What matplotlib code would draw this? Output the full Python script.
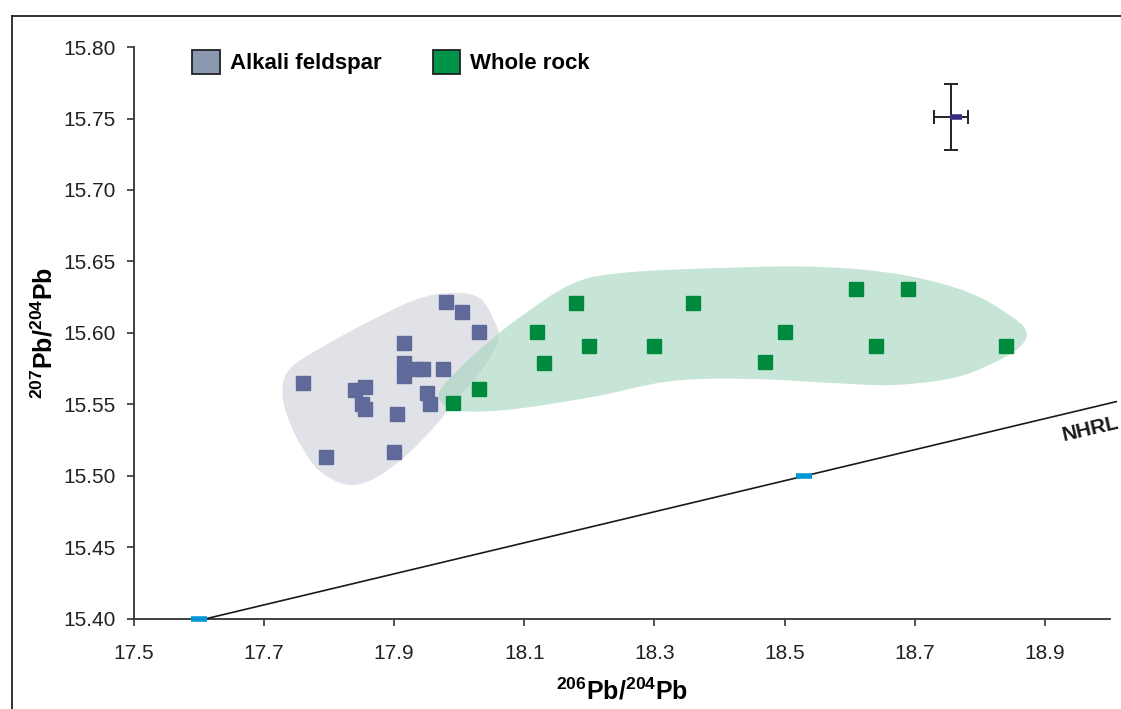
import numpy as np
import matplotlib
matplotlib.use("Agg")
import matplotlib.pyplot as plt
from matplotlib.patches import Patch, Polygon
from matplotlib.lines import Line2D

plt.rcParams['font.family'] = ['Liberation Sans', 'DejaVu Sans']
plt.rcParams['mathtext.fontset'] = 'custom'
plt.rcParams['mathtext.bf'] = 'Liberation Sans:bold'
plt.rcParams['mathtext.rm'] = 'Liberation Sans'

# alkali feldspar (206Pb/204Pb, 207Pb/204Pb)
kfs_x = [17.76, 17.795, 17.84, 17.855, 17.85, 17.855, 17.905, 17.90, 17.915, 17.915,
         17.915, 17.93, 17.945, 17.975, 17.95, 17.955, 17.98, 18.005, 18.03]
kfs_y = [15.565, 15.513, 15.560, 15.562, 15.550, 15.547, 15.543, 15.517, 15.593, 15.579,
         15.570, 15.575, 15.575, 15.575, 15.558, 15.550, 15.622, 15.615, 15.601]

# whole rock
wr_x = [17.99, 18.03, 18.12, 18.13, 18.18, 18.20, 18.30, 18.36, 18.47, 18.50,
        18.61, 18.64, 18.69, 18.84]
wr_y = [15.551, 15.561, 15.601, 15.579, 15.621, 15.591, 15.591, 15.621, 15.580, 15.601,
        15.631, 15.591, 15.631, 15.591]

# field envelopes (hand drawn outlines)
kfs_env_x = [17.728, 17.741, 17.795, 17.872, 17.941, 17.995, 18.031, 18.052, 18.060, 18.034,
             17.995, 17.957, 17.910, 17.864, 17.826, 17.784, 17.756, 17.738]
kfs_env_y = [15.559, 15.5755, 15.5916, 15.6105, 15.6245, 15.628, 15.6245, 15.6105, 15.595, 15.574,
             15.553, 15.532, 15.511, 15.497, 15.494, 15.504, 15.522, 15.539]
wr_env_x = [17.968, 17.995, 18.073, 18.204, 18.327, 18.451, 18.574, 18.667, 18.759, 18.821,
            18.860, 18.872, 18.852, 18.785, 18.682, 18.554, 18.404, 18.250, 18.173, 18.096,
            18.045, 17.995]
wr_env_y = [15.5566, 15.5462, 15.5462, 15.5552, 15.5664, 15.5678, 15.5650, 15.5636, 15.5685, 15.5790,
            15.5895, 15.6000, 15.6105, 15.6280, 15.6406, 15.6462, 15.6455, 15.6420, 15.6343, 15.6119,
            15.5937, 15.5727]

# analytical uncertainty (2 sigma)
err_x, err_y = 18.756, 15.751
err_dx, err_dy = 0.026, 0.023
err_mark_x = 18.763

# NHRL
nhrl_x = [17.60, 19.01]
nhrl_y = [15.399, 15.552]
nhrl_marks_x = [17.60, 18.53]
nhrl_marks_y = [15.40, 15.50]


def smooth_closed(xs, ys, n=20):
    # closed Catmull-Rom curve through the outline points
    p = np.column_stack([xs, ys])
    m = len(p)
    out = []
    t = np.linspace(0, 1, n, endpoint=False)[:, None]
    for i in range(m):
        p0, p1, p2, p3 = p[i - 1], p[i], p[(i + 1) % m], p[(i + 2) % m]
        seg = 0.5 * ((2 * p1) + (-p0 + p2) * t + (2 * p0 - 5 * p1 + 4 * p2 - p3) * t ** 2
                     + (-p0 + 3 * p1 - 3 * p2 + p3) * t ** 3)
        out.append(seg)
    return np.vstack(out)


fig = plt.figure(figsize=(11.21, 7.09), dpi=100)
ax = fig.add_axes([0.1195, 0.127, 0.8705, 0.8067])

ax.add_patch(Polygon(smooth_closed(kfs_env_x, kfs_env_y), closed=True,
                     facecolor='#e0e2e8', edgecolor='none', zorder=1))
ax.add_patch(Polygon(smooth_closed(wr_env_x, wr_env_y), closed=True,
                     facecolor=(0.64, 0.837, 0.732), alpha=0.6, edgecolor='none', zorder=2))

ax.plot(nhrl_x, nhrl_y, color='#1a1a1a', lw=1.2, zorder=3, clip_on=False)
ax.plot(nhrl_marks_x, nhrl_marks_y, ls='none', marker='_', ms=11, mew=4,
        color='#0096d6', zorder=4, clip_on=False)
ax.text(18.970, 15.5325, 'NHRL', rotation=13, fontsize=15, fontweight='bold',
        color='#1a1a1a', ha='center', va='center')

ax.plot(kfs_x, kfs_y, ls='none', marker='s', ms=10, color='#5f6a9b', zorder=5)
ax.plot(wr_x, wr_y, ls='none', marker='s', ms=10, color='#008a3e', zorder=5)

ax.errorbar(err_x, err_y, xerr=err_dx, yerr=err_dy, fmt='none', ecolor='#222222',
            elinewidth=1.4, capsize=5, capthick=1.4, zorder=5)
ax.plot(err_mark_x, err_y, marker='_', ms=8, mew=4, color='#3d2b80', zorder=6)

ax.set_xlim(17.5, 19.0)
ax.set_ylim(15.40, 15.80)
ax.set_xticks(np.arange(17.5, 18.95, 0.2))
ax.set_xticklabels(['17.5', '17.7', '17.9', '18.1', '18.3', '18.5', '18.7', '18.9'])
ax.set_yticks(np.arange(15.40, 15.801, 0.05))
ax.set_yticklabels(['%.2f' % v for v in np.arange(15.40, 15.801, 0.05)])
ax.spines['top'].set_visible(False)
ax.spines['right'].set_visible(False)
for s in ['left', 'bottom']:
    ax.spines[s].set_color('#333333')
    ax.spines[s].set_linewidth(1.3)
ax.tick_params(direction='out', length=5, width=1.2, color='#333333',
               labelsize=15, labelcolor='#222222')
ax.tick_params(axis='x', pad=13)
ax.tick_params(axis='y', pad=8)

ax.set_xlabel(r'$\mathbf{^{206}}$Pb/$\mathbf{^{204}}$Pb', fontsize=18,
              fontweight='bold', labelpad=11)
ax.set_ylabel(r'$\mathbf{^{207}}$Pb/$\mathbf{^{204}}$Pb', fontsize=18,
              fontweight='bold', labelpad=4)

handles = [Patch(facecolor='#8a99b0', edgecolor='#222222', lw=1.3, label='Alkali feldspar'),
           Patch(facecolor='#00934a', edgecolor='#222222', lw=1.3, label='Whole rock')]
leg = ax.legend(handles=handles, loc='upper left', bbox_to_anchor=(0.039, 1.03), ncol=2,
                frameon=False, handlelength=1.25, handleheight=1.3, handletextpad=0.45,
                columnspacing=2.3, prop={'weight': 'bold', 'size': 16})

# outer frame lines
fig.add_artist(Line2D([0.0107, 0.0107], [0.0, 0.9774], color='#222222', lw=1.3))
fig.add_artist(Line2D([0.0107, 1.0], [0.9774, 0.9774], color='#222222', lw=1.3))

fig.savefig('out.png', dpi=100)
